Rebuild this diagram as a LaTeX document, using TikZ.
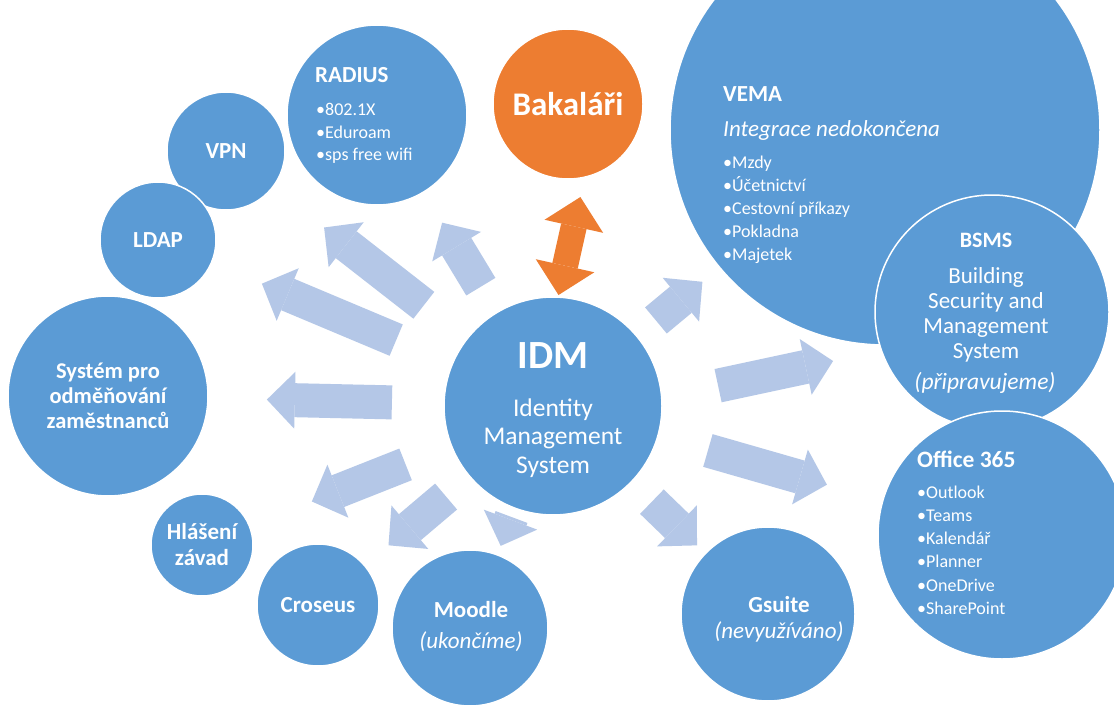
\documentclass[tikz,border=0pt]{standalone}
\usepackage{fontspec}
\setmainfont{Carlito}
\usetikzlibrary{calc, arrows.meta}
\definecolor{idmblue}{HTML}{5B9BD5}
\definecolor{idmorange}{HTML}{ED7D31}
\definecolor{idmlight}{HTML}{B4C7E7}
\newcommand\idmtit{\fontsize{23}{26}\selectfont\bfseries}
\newcommand\idmit{\fontsize{23}{26}\selectfont\itshape}
\newcommand\idmblt{\fontsize{18}{21}\selectfont}

\begin{document}
\begin{tikzpicture}[x=1pt, y=-1pt,
  bub/.style={circle, fill=idmblue, draw=white, line width=1.5pt, inner sep=0pt, text=white, align=center},
  lbl/.style={text=white, inner sep=0pt},
  blt/.style={lbl, anchor=base west, font=\idmblt},
  ttl/.style={lbl, font=\idmtit},
  blk/.style={idmlight, line width=34pt, -{Triangle[width=57pt 0 0, length=28pt 0 0, line width=0pt 0 0]}},
  dbl/.style={idmorange, line width=26pt, {Triangle[width=60pt 0 0, length=30pt 0 0, line width=0pt 0 0]}-{Triangle[width=60pt 0 0, length=30pt 0 0, line width=0pt 0 0]}}]
  \fill[white] (0,0) rectangle (1114,706);
  \useasboundingbox (0,0) rectangle (1114,706);
  \clip (0,0) rectangle (1114,706);

  % circles
  \node[bub, minimum size=430pt] (vema) at (885,130) {};
  \node[bub, minimum size=234pt] (bsms) at (992,312) {};
  \node[bub, minimum size=248pt] (office) at (1002,535) {};
  \node[bub, minimum size=174pt] (gsuite) at (768,614) {};
  \node[bub, minimum size=218pt] (idm) at (553,406) {};
  \node[bub, fill=idmorange, minimum size=150pt, font=\fontsize{33}{36}\selectfont\bfseries] (bak) at (568,104) {Bakaláři};
  \node[bub, minimum size=180pt] (radius) at (377,115) {};
  \node[bub, minimum size=118pt, font=\idmtit] (vpn) at (226,151) {VPN};
  \node[bub, minimum size=116pt, font=\idmtit] (ldap) at (158,240) {LDAP};
  \node[bub, minimum size=200pt, font=\fontsize{22.5}{25}\selectfont\bfseries] (sys) at (108,396) {Systém pro\\odměňování\\zaměstnanců};
  \node[bub, minimum size=102pt, font=\fontsize{23}{26}\selectfont\bfseries] (hlas) at (202,545) {Hlášení\\závad};
  \node[bub, minimum size=122pt, font=\idmtit] (crose) at (318,605) {Croseus};
  \node[bub, minimum size=156pt] (moodle) at (470,628) {};

  % texts
  \node[lbl, anchor=base, font=\fontsize{40}{44}\selectfont\bfseries] (idm-t) at (553,368) {IDM};
  \foreach \s [count=\i from 0] in {Identity,Management,System}
    \node[lbl, anchor=base, font=\fontsize{25.5}{28}\selectfont] (idm-\i) at (553,416+28.5*\i) {\s};

  \node[ttl, anchor=base west] (radius-t) at (315,83) {RADIUS};
  \foreach \s [count=\i from 0] in {802.1X,Eduroam,sps free wifi}
    \node[blt] (radius-\i) at (316,116+22.4*\i) {•\s};

  \node[ttl, anchor=base west] (vema-t) at (723,102) {VEMA};
  \node[lbl, anchor=base west, font=\idmit] (vema-s) at (723,137) {Integrace nedokončena};
  \foreach \s [count=\i from 0] in {Mzdy,Účetnictví,Cestovní příkazy,Pokladna,Majetek}
    \node[blt] (vema-\i) at (723,168+23.1*\i) {•\s};

  \node[lbl, anchor=base, font=\fontsize{22}{25}\selectfont\bfseries] (bsms-t) at (986,247) {BSMS};
  \foreach \s [count=\i from 0] in {Building,Security and,Management,System}
    \node[lbl, anchor=base, font=\fontsize{23}{25}\selectfont] (bsms-\i) at (986,283+25*\i) {\s};
  \node[lbl, anchor=base, font=\fontsize{23.5}{26}\selectfont\itshape] (bsms-s) at (985,389) {(připravujeme)};

  \node[lbl, anchor=base west, font=\fontsize{23.5}{27}\selectfont\bfseries] (office-t) at (917,467) {Office 365};
  \foreach \s [count=\i from 0] in {Outlook,Teams,Kalendář,Planner,OneDrive,SharePoint}
    \node[blt] (office-\i) at (917,498+23.3*\i) {•\s};

  \node[ttl, anchor=base] (gsuite-t) at (779,612) {Gsuite};
  \node[lbl, anchor=base, font=\idmit] (gsuite-s) at (779,638) {(nevyužíváno)};

  \node[ttl, anchor=base] (moodle-t) at (471,617) {Moodle};
  \node[lbl, anchor=base, font=\idmit] (moodle-s) at (471,648) {(ukončíme)};

  % arrows
  \foreach \n/\a/\b in {radius/0.41/0.63, vpn/0.395/0.70, ldap/0.397/0.737, sys/0.362/0.643, hlas/0.42/0.687, crose/0.455/0.70, moodle/0.50/0.63, gsuite/0.46/0.67, office/0.345/0.61, vema/0.31/0.45}
    \draw[blk] ($(idm)!\a!(\n)$) -- ($(idm)!\b!(\n)$);
  \draw[blk] ($(idm)!0.376!(bsms)+(0,15)$) -- ($(idm)!0.638!(bsms)+(0,15)$);
  \draw[dbl] ($(idm)!0.3675!(bak)$) -- ($(idm)!0.692!(bak)+(17,0)$);
\end{tikzpicture}
\end{document}
